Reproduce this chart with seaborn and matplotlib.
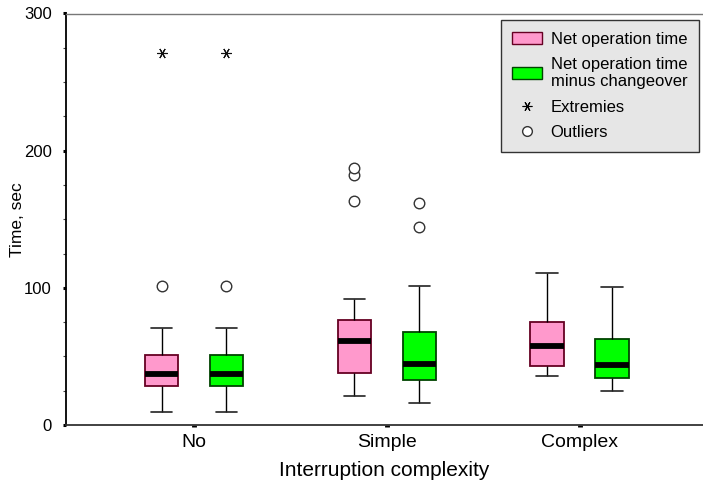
import numpy as np
import pandas as pd
import matplotlib
matplotlib.use("Agg")
import matplotlib.pyplot as plt
import seaborn as sns
from matplotlib.patches import Patch
from matplotlib.lines import Line2D
from matplotlib.ticker import MultipleLocator

# ---------------- data ----------------
categories = ["No", "Simple", "Complex"]
measures = ["Net operation time", "Net operation time\nminus changeover"]

# five-number summaries per box: [low whisker, Q1, median, Q3, high whisker]
net_time_summary = [
    [9.5, 28.5, 37.4, 51.3, 70.6],     # No
    [21.0, 38.0, 61.5, 76.5, 92.0],    # Simple
    [36.0, 43.0, 57.5, 75.0, 111.0],   # Complex
]
net_minus_summary = [
    [9.5, 28.5, 37.4, 51.3, 70.6],     # No
    [16.0, 33.0, 44.5, 68.0, 101.5],   # Simple
    [25.0, 34.5, 44.0, 62.5, 100.5],   # Complex
]
net_time_outliers = [[101], [163, 182, 187], []]
net_minus_outliers = [[101], [144, 162], []]
net_time_extremes = [[271], [], []]
net_minus_extremes = [[271], [], []]

colors = ["#FF99CC", "#00FF00"]
edge_colors = ["#660022", "#004400"]

# ---------------- long table ----------------
rows = []
for m, summ in zip(measures, [net_time_summary, net_minus_summary]):
    for c, vals in zip(categories, summ):
        for v in vals:
            rows.append({"complexity": c, "measure": m, "time": v})
df = pd.DataFrame(rows)

sns.set_theme(style="white")
plt.rcParams["font.family"] = ["Liberation Sans", "DejaVu Sans"]
plt.rcParams["text.color"] = "black"
plt.rcParams["axes.labelcolor"] = "black"

fig = plt.figure(figsize=(7.03, 4.86), dpi=100)
ax = fig.add_axes([66 / 703, 1 - 425 / 486, 1 - 66 / 703, (425 - 13.5) / 486])

WIDTH = 0.674
GAP = 0.49
sns.boxplot(data=df, x="complexity", y="time", hue="measure",
            order=categories, hue_order=measures, palette=colors, saturation=1,
            width=WIDTH, gap=GAP, whis=(0, 100), showfliers=False,
            linewidth=1.0, legend=False, ax=ax,
            medianprops=dict(color="black", linewidth=4.2, solid_capstyle="butt"),
            whiskerprops=dict(color="black", linewidth=1.0),
            capprops=dict(color="#222222", linewidth=1.2))

# box edge colors
for i, patch in enumerate(ax.patches):
    hue_idx = 0 if i < len(categories) else 1
    patch.set_edgecolor(edge_colors[hue_idx])
    patch.set_linewidth(1.3)

# widen whisker caps a bit (reference caps ~ 0.63 of box width)
box_w = WIDTH / 2 * (1 - GAP)
for ln in ax.lines:
    x = np.asarray(ln.get_xdata(), dtype=float)
    y = np.asarray(ln.get_ydata(), dtype=float)
    if len(x) == 2 and y[0] == y[1] and ln.get_linewidth() < 2:
        span = abs(x[1] - x[0])
        if 0 < span < box_w * 0.9:
            cx = x.mean()
            ln.set_xdata([cx - box_w * 0.32, cx + box_w * 0.32])

# outliers & extremes at the dodged positions
offsets = [-WIDTH / 4, WIDTH / 4]
for h, (outs, exts) in enumerate([(net_time_outliers, net_time_extremes),
                                  (net_minus_outliers, net_minus_extremes)]):
    for ci in range(len(categories)):
        if outs[ci]:
            ax.plot([ci + offsets[h]] * len(outs[ci]), outs[ci], linestyle="none",
                    marker="o", markersize=7.6, markerfacecolor="white",
                    markeredgecolor="#333333", markeredgewidth=1.0, zorder=5)
        if exts[ci]:
            ax.plot([ci + offsets[h]] * len(exts[ci]), exts[ci], linestyle="none",
                    marker=(6, 2, 30), markersize=7.5, markeredgecolor="#111111",
                    markeredgewidth=0.8, zorder=5)

# ---------------- axes styling ----------------
ax.set_ylim(0, 300)
ax.set_xlim(-(194 - 66) / 192.75, 2 + (703 - 579.5) / 192.75)
ax.yaxis.set_major_locator(MultipleLocator(100))
ax.yaxis.set_minor_locator(MultipleLocator(25))
ax.tick_params(axis="y", which="major", direction="out", length=2.2, width=2.2,
               color="black", labelsize=12, pad=8, left=True)
ax.tick_params(axis="y", which="minor", direction="out", length=2.0, width=0.8,
               color="#444444", left=True)
ax.tick_params(axis="x", which="major", direction="out", length=1.5, width=3.5,
               color="black", labelsize=14, pad=5, bottom=True)
for lab in ax.get_xticklabels() + ax.get_yticklabels():
    lab.set_color("black")

ax.set_xlabel("Interruption complexity", fontsize=15, color="black", labelpad=7)
ax.set_ylabel("Time, sec", fontsize=12.5, color="black")
ax.yaxis.set_label_coords(-(66 - 25) / 637, 0.5)

ax.spines["right"].set_visible(False)
ax.spines["left"].set_color("black")
ax.spines["left"].set_linewidth(1.3)
ax.spines["top"].set_color("#777777")
ax.spines["top"].set_linewidth(1.0)
ax.spines["bottom"].set_color("#333333")
ax.spines["bottom"].set_linewidth(1.3)
ax.grid(False)

# ---------------- legend ----------------
handles = [
    Patch(facecolor=colors[0], edgecolor=edge_colors[0], linewidth=1.0),
    Patch(facecolor=colors[1], edgecolor=edge_colors[1], linewidth=1.0),
    Line2D([], [], linestyle="none", marker=(6, 2, 30), markersize=7,
           markeredgecolor="black", markeredgewidth=0.8),
    Line2D([], [], linestyle="none", marker="o", markersize=7,
           markerfacecolor="white", markeredgecolor="#333333", markeredgewidth=1.0),
]
labels = [measures[0], measures[1], "Extremies", "Outliers"]
leg = ax.legend(handles, labels, loc="upper right",
                bbox_to_anchor=(1 - 4 / 637, 1 - 6.5 / 411.5), borderaxespad=0,
                fontsize=12, frameon=True, fancybox=False, framealpha=1,
                facecolor="#E6E6E6", edgecolor="#333333",
                handlelength=1.8, handleheight=0.75, handletextpad=0.5,
                labelspacing=0.62, borderpad=0.7)
leg.get_frame().set_linewidth(1.0)
for t in leg.get_texts():
    t.set_color("black")

fig.savefig("out.png", dpi=100)
